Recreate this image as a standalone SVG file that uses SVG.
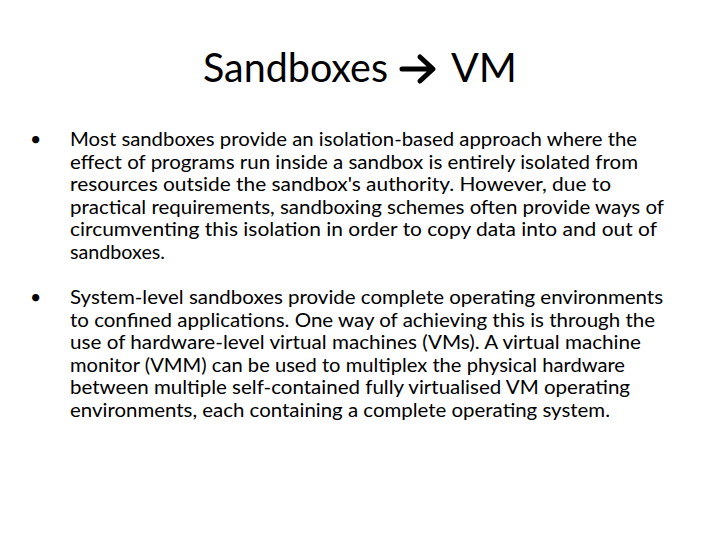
<svg xmlns="http://www.w3.org/2000/svg" width="720" height="540" viewBox="0 0 720 540">
<style>
.t{font-family:Lato,"Open Sans","Liberation Sans",sans-serif;fill:#000}
.b{font-size:19.5px}
</style>
<rect width="720" height="540" fill="#fff"/>
<g id="title">
<text class="t" x="203" y="82" font-size="40" textLength="185" lengthAdjust="spacingAndGlyphs">Sandboxes</text>
<path d="M402 69 H430 M420 57 L433 69 L420 81" fill="none" stroke="#000" stroke-width="5" stroke-linecap="round" stroke-linejoin="round"/>
<text class="t" x="451" y="82" font-size="40" textLength="66" lengthAdjust="spacingAndGlyphs">VM</text>
</g>
<g id="bullet1" class="t b">
<text x="30" y="146">•</text>
<text x="70" y="146" textLength="567" lengthAdjust="spacingAndGlyphs">Most sandboxes provide an isolation-based approach where the</text>
<text x="70" y="168.5" textLength="568" lengthAdjust="spacingAndGlyphs">effect of programs run inside a sandbox is entirely isolated from</text>
<text x="70" y="191" textLength="541" lengthAdjust="spacingAndGlyphs">resources outside the sandbox's authority. However, due to</text>
<text x="70" y="213.5" textLength="594" lengthAdjust="spacingAndGlyphs">practical requirements, sandboxing schemes often provide ways of</text>
<text x="70" y="236" textLength="587" lengthAdjust="spacingAndGlyphs">circumventing this isolation in order to copy data into and out of</text>
<text x="70" y="258.5" textLength="95" lengthAdjust="spacingAndGlyphs">sandboxes.</text>
</g>
<g id="bullet2" class="t b">
<text x="30" y="304">•</text>
<text x="70" y="304" textLength="593" lengthAdjust="spacingAndGlyphs">System-level sandboxes provide complete operating environments</text>
<text x="70" y="326.5" textLength="585" lengthAdjust="spacingAndGlyphs">to confined applications. One way of achieving this is through the</text>
<text x="70" y="349" textLength="571" lengthAdjust="spacingAndGlyphs">use of hardware-level virtual machines (VMs). A virtual machine</text>
<text x="70" y="371.5" textLength="555" lengthAdjust="spacingAndGlyphs">monitor (VMM) can be used to multiplex the physical hardware</text>
<text x="70" y="394" textLength="560" lengthAdjust="spacingAndGlyphs">between multiple self-contained fully virtualised VM operating</text>
<text x="70" y="416.5" textLength="540" lengthAdjust="spacingAndGlyphs">environments, each containing a complete operating system.</text>
</g>
</svg>
